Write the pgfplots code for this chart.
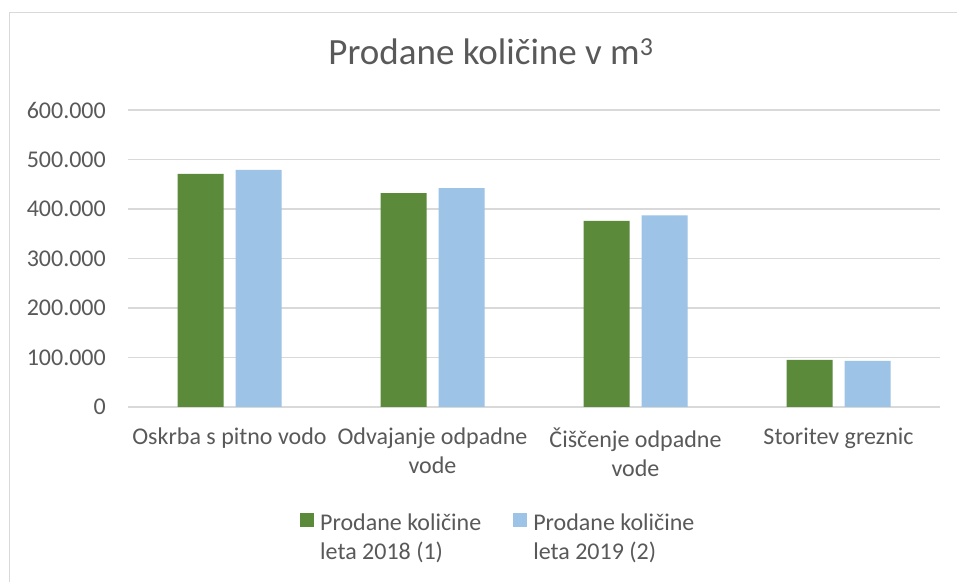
\documentclass[border=0pt]{standalone}
\usepackage{pgfplots}
\pgfplotsset{compat=1.18}
\usepackage{fontspec}
\setmainfont{Carlito}
\definecolor{gridc}{HTML}{D9D9D9}
\definecolor{txt}{HTML}{595959}
\definecolor{cgreen}{HTML}{5B8A3B}
\definecolor{cblue}{HTML}{9DC3E6}
\begin{document}
\begin{tikzpicture}[x=1bp,y=1bp]
\useasboundingbox (0,0) rectangle (957,582);
\fill[white] (0,0) rectangle (957,582);
\draw[gridc, line width=1.5bp] (9.5,-20) -- (9.5,569.5) -- (980,569.5);
\begin{axis}[
  at={(128bp,175bp)}, anchor=south west,
  scale only axis, width=812bp, height=297bp,
  xmin=0, xmax=4, ymin=0, ymax=600000,
  enlarge x limits=false,
  xtick={0.5,1.5,2.5,3.5},
  xticklabels={Oskrba s pitno vodo, Odvajanje odpadne\\vode, Čiščenje odpadne\\vode, Storitev greznic},
  ytick={0,100000,200000,300000,400000,500000,600000},
  yticklabels={0,100.000,200.000,300.000,400.000,500.000,600.000},
  scaled y ticks=false,
  major tick length=0pt,
  axis line style={draw=none},
  ymajorgrids, major grid style={gridc, line width=1.5bp},
  tick label style={font=\fontsize{24bp}{29bp}\selectfont, text=txt},
  yticklabel style={anchor=east, inner sep=0pt, xshift=-22bp},
  xticklabel style={anchor=north, inner sep=0pt, yshift=-21bp, align=center},
  title={Prodane količine v m\textsuperscript{3}},
  title style={at={(0.447,1.1347)}, anchor=base, inner sep=0pt, font=\fontsize{37bp}{44bp}\selectfont, text=txt},
  legend columns=2,
  legend style={at={(169bp,-104bp)}, anchor=north west, draw=none, fill=none,
    font=\fontsize{24bp}{29bp}\selectfont, text=txt,
    nodes={align=left, inner sep=0pt},
    /tikz/every even column/.append style={column sep=32bp}},
  legend cell align=left,
]
\addplot[ybar, bar width=46bp, bar shift=-29bp, fill=cgreen, draw=none,
  legend image code/.code={\fill[cgreen] (0bp,10bp) rectangle (14bp,24bp); \path (20bp,0);}]
  coordinates {(0.5,471000) (1.5,432000) (2.5,376000) (3.5,95000)};
\addlegendentry{Prodane količine\\leta 2018 (1)}
\addplot[ybar, bar width=46bp, bar shift=29bp, fill=cblue, draw=none,
  legend image code/.code={\fill[cblue] (0bp,10bp) rectangle (14bp,24bp); \path (20bp,0);}]
  coordinates {(0.5,479000) (1.5,442000) (2.5,387000) (3.5,93000)};
\addlegendentry{Prodane količine\\leta 2019 (2)}
\end{axis}
\end{tikzpicture}
\end{document}
